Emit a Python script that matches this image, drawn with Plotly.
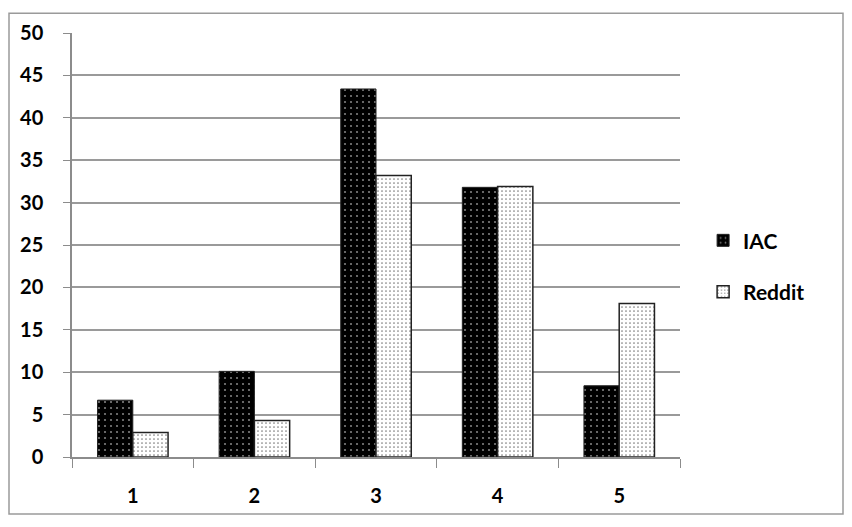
import plotly.graph_objects as go

# Data
categories = ['1', '2', '3', '4', '5']
iac_values = [6.7, 10.1, 43.4, 31.8, 8.4]
reddit_values = [2.9, 4.3, 33.2, 31.9, 18.1]
y_ticks = [0, 5, 10, 15, 20, 25, 30, 35, 40, 45, 50]

font_family = 'Lato, Open Sans, sans-serif'

fig = go.Figure()

fig.add_trace(go.Bar(
    x=categories, y=iac_values, name='IAC', legendgroup='iac',
    marker=dict(
        color='black',
        line=dict(color='#222222', width=1),
        pattern=dict(shape='.', fgcolor='white', bgcolor='black', size=6, solidity=0.1),
    ),
))

fig.add_trace(go.Bar(
    x=categories, y=reddit_values, name='Reddit', legendgroup='reddit',
    marker=dict(
        color='white',
        line=dict(color='#222222', width=1.5),
        pattern=dict(shape='.', fgcolor='black', bgcolor='white', size=4, solidity=0.15),
    ),
))

# the page body adds an 8px offset, so the figure is a bit smaller than the window
W, H = 836, 511
ml, mr, mt, mb = 64, 164, 21, 59
pw, ph = W - ml - mr, H - mt - mb

fig.update_layout(
    width=W, height=H,
    margin=dict(l=ml, r=mr, t=mt, b=mb),
    plot_bgcolor='white',
    paper_bgcolor='white',
    barmode='group',
    bargap=0.42,
    bargroupgap=0,
    font=dict(family=font_family, size=20, color='black', weight='bold'),
    legend=dict(
        x=1.038, y=0.45, xanchor='left', yanchor='middle',
        font=dict(size=21, family=font_family, weight='bold'),
        tracegroupgap=21,
        itemwidth=30,
    ),
    xaxis=dict(
        showgrid=False,
        showline=True, linecolor='#8c8c8c', linewidth=1.5,
        ticks='outside', tickson='boundaries', ticklen=9, tickcolor='#8c8c8c',
        ticklabelstandoff=20,
    ),
    yaxis=dict(
        range=[0, 50], tickvals=y_ticks,
        showgrid=True, gridcolor='#9a9a9a', gridwidth=1.5,
        showline=True, linecolor='#8c8c8c', linewidth=1.5,
        ticks='outside', ticklen=7, tickcolor='#8c8c8c',
        ticklabelstandoff=16,
        zeroline=False,
    ),
    shapes=[dict(
        type='rect', xref='paper', yref='paper',
        x0=-(ml - 1) / pw, x1=1 + (mr - 1) / pw,
        y0=-(mb - 1) / ph, y1=1 + (mt - 1) / ph,
        line=dict(color='#9a9a9a', width=1.5),
    )],
)

fig.write_html("out.html")
